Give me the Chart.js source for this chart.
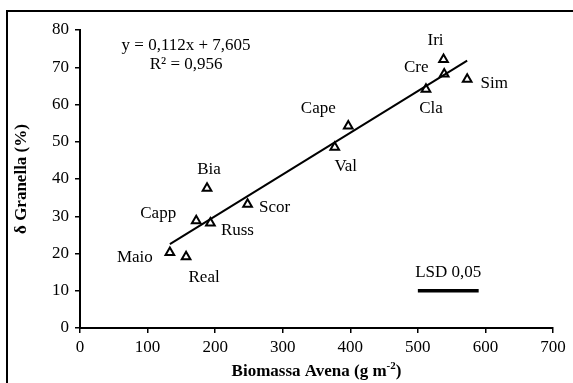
<!DOCTYPE html>
<html>
<head>
<meta charset="utf-8">
<script src="https://cdn.jsdelivr.net/npm/chart.js@4/dist/chart.umd.min.js"></script>
<style>
    body { margin: 0; background: #fff; }
    #chart { display: block; }
</style>
</head>
<body>
<canvas id="chart" width="573" height="383"></canvas>
<script>
// Dati
var cultivar = ['Maio', 'Real', 'Capp', 'Russ', 'Bia', 'Scor', 'Val', 'Cape', 'Cla', 'Cre', 'Iri', 'Sim'];
var biomassa = [133, 157, 172, 193, 188, 248, 377, 397, 512, 539, 538, 573];
var granella = [20.3, 19.1, 28.8, 28.2, 37.5, 33.2, 48.5, 54.2, 64.1, 68.2, 72.1, 66.8];

// Retta di regressione (dal testo del grafico)
var pendenza = 0.112;
var intercetta = 7.605;
var r2 = 0.956;

// Barra LSD 0,05
var lsdX = [500, 590];
var lsdY = 10;

// Assi
var xTicks = [0, 100, 200, 300, 400, 500, 600, 700];
var yTicks = [0, 10, 20, 30, 40, 50, 60, 70, 80];

var FONT = '"Liberation Serif", "Times New Roman", serif';

// spostamento delle etichette rispetto al punto (px)
var labelOffsets = [[-35, 5], [18, 21], [-38, -7], [27, 8], [2, -19], [27, 3],
                    [11, 19], [-30, -18], [5, 19], [-28, -6], [-8, -19], [27, 4]];

function virgola(n) {
    return String(n).replace('.', ',');
}

var punti = biomassa.map(function (x, i) {
    return { x: x, y: granella[i] };
});

var xMin = Math.min.apply(null, biomassa);
var xMax = Math.max.apply(null, biomassa);
var retta = [
    { x: xMin, y: pendenza * xMin + intercetta },
    { x: xMax, y: pendenza * xMax + intercetta }
];

var lsd = [{ x: lsdX[0], y: lsdY }, { x: lsdX[1], y: lsdY }];

// Testi, cornice e titolo asse x
var testiPlugin = {
    id: 'testi',
    afterDraw: function (chart) {
        var ctx = chart.ctx;
        var xs = chart.scales.x;
        var ys = chart.scales.y;
        ctx.save();
        ctx.fillStyle = '#000';
        ctx.font = '17px ' + FONT;
        ctx.textAlign = 'center';
        ctx.textBaseline = 'middle';

        // etichette cultivar
        cultivar.forEach(function (nome, i) {
            var px = xs.getPixelForValue(biomassa[i]) + labelOffsets[i][0];
            var py = ys.getPixelForValue(granella[i]) + labelOffsets[i][1];
            ctx.fillText(nome, px, py);
        });

        // equazione
        var ex = xs.getPixelForValue(157);
        var ey = ys.getPixelForValue(75.8);
        ctx.fillText('y = ' + virgola(pendenza) + 'x + ' + virgola(intercetta), ex, ey);
        ctx.fillText('R² = ' + virgola(r2), ex, ey + 18.6);

        // LSD
        ctx.fillText('LSD 0,05', (xs.getPixelForValue(lsdX[0]) + xs.getPixelForValue(lsdX[1])) / 2,
            ys.getPixelForValue(lsdY) - 18);

        // titolo asse x con apice
        var main = 'Biomassa Avena (g m';
        var sup = '-2';
        var end = ')';
        ctx.font = 'bold 17px ' + FONT;
        var w1 = ctx.measureText(main).width;
        var w3 = ctx.measureText(end).width;
        ctx.font = 'bold 11px ' + FONT;
        var w2 = ctx.measureText(sup).width;
        var cx = (chart.chartArea.left + chart.chartArea.right) / 2;
        var x0 = cx - (w1 + w2 + w3) / 2;
        var ty = 370;
        ctx.textAlign = 'left';
        ctx.textBaseline = 'alphabetic';
        ctx.font = 'bold 17px ' + FONT;
        ctx.fillText(main, x0, ty + 6);
        ctx.font = 'bold 11px ' + FONT;
        ctx.fillText(sup, x0 + w1, ty - 1);
        ctx.font = 'bold 17px ' + FONT;
        ctx.fillText(end, x0 + w1 + w2, ty + 6);

        // cornice
        ctx.strokeStyle = '#000';
        ctx.lineWidth = 2;
        ctx.strokeRect(7, 11, 700, 500);
        ctx.restore();
    }
};

new Chart(document.getElementById('chart'), {
    type: 'scatter',
    data: {
        datasets: [{
            label: 'Cultivar',
            data: punti,
            pointStyle: 'triangle',
            radius: 5,
            borderColor: '#000',
            backgroundColor: 'rgba(0,0,0,0)',
            borderWidth: 2,
            order: 0
        }, {
            label: 'Regressione',
            data: retta,
            showLine: true,
            borderColor: '#000',
            borderWidth: 2,
            pointRadius: 0,
            order: 1
        }, {
            label: 'LSD',
            data: lsd,
            showLine: true,
            borderColor: '#000',
            borderWidth: 3.5,
            pointRadius: 0,
            order: 1
        }]
    },
    options: {
        responsive: false,
        animation: false,
        layout: {
            padding: { top: 30, right: 20, bottom: 0, left: 0 }
        },
        plugins: {
            legend: { display: false },
            tooltip: { enabled: false }
        },
        scales: {
            x: {
                type: 'linear',
                min: xTicks[0],
                max: xTicks[xTicks.length - 1],
                afterBuildTicks: function (scale) {
                    scale.ticks = xTicks.map(function (v) { return { value: v }; });
                },
                afterFit: function (scale) { scale.height = 55; },
                grid: { drawOnChartArea: false, drawTicks: true, tickLength: 5, color: '#000', lineWidth: 1.5 },
                border: { color: '#000', width: 2 },
                ticks: {
                    color: '#000',
                    padding: 4,
                    maxRotation: 0,
                    font: { family: FONT, size: 17 }
                }
            },
            y: {
                type: 'linear',
                min: yTicks[0],
                max: yTicks[yTicks.length - 1],
                afterBuildTicks: function (scale) {
                    scale.ticks = yTicks.map(function (v) { return { value: v }; });
                },
                afterFit: function (scale) { scale.width = 80; },
                grid: { drawOnChartArea: false, drawTicks: true, tickLength: 5, color: '#000', lineWidth: 1.5 },
                border: { color: '#000', width: 2 },
                title: {
                    display: true,
                    text: 'δ Granella (%)',
                    color: '#000',
                    padding: { top: 11, bottom: 0 },
                    font: { family: FONT, size: 17, weight: 'bold' }
                },
                ticks: {
                    color: '#000',
                    padding: 6,
                    font: { family: FONT, size: 17 }
                }
            }
        }
    },
    plugins: [testiPlugin]
});
</script>
</body>
</html>
